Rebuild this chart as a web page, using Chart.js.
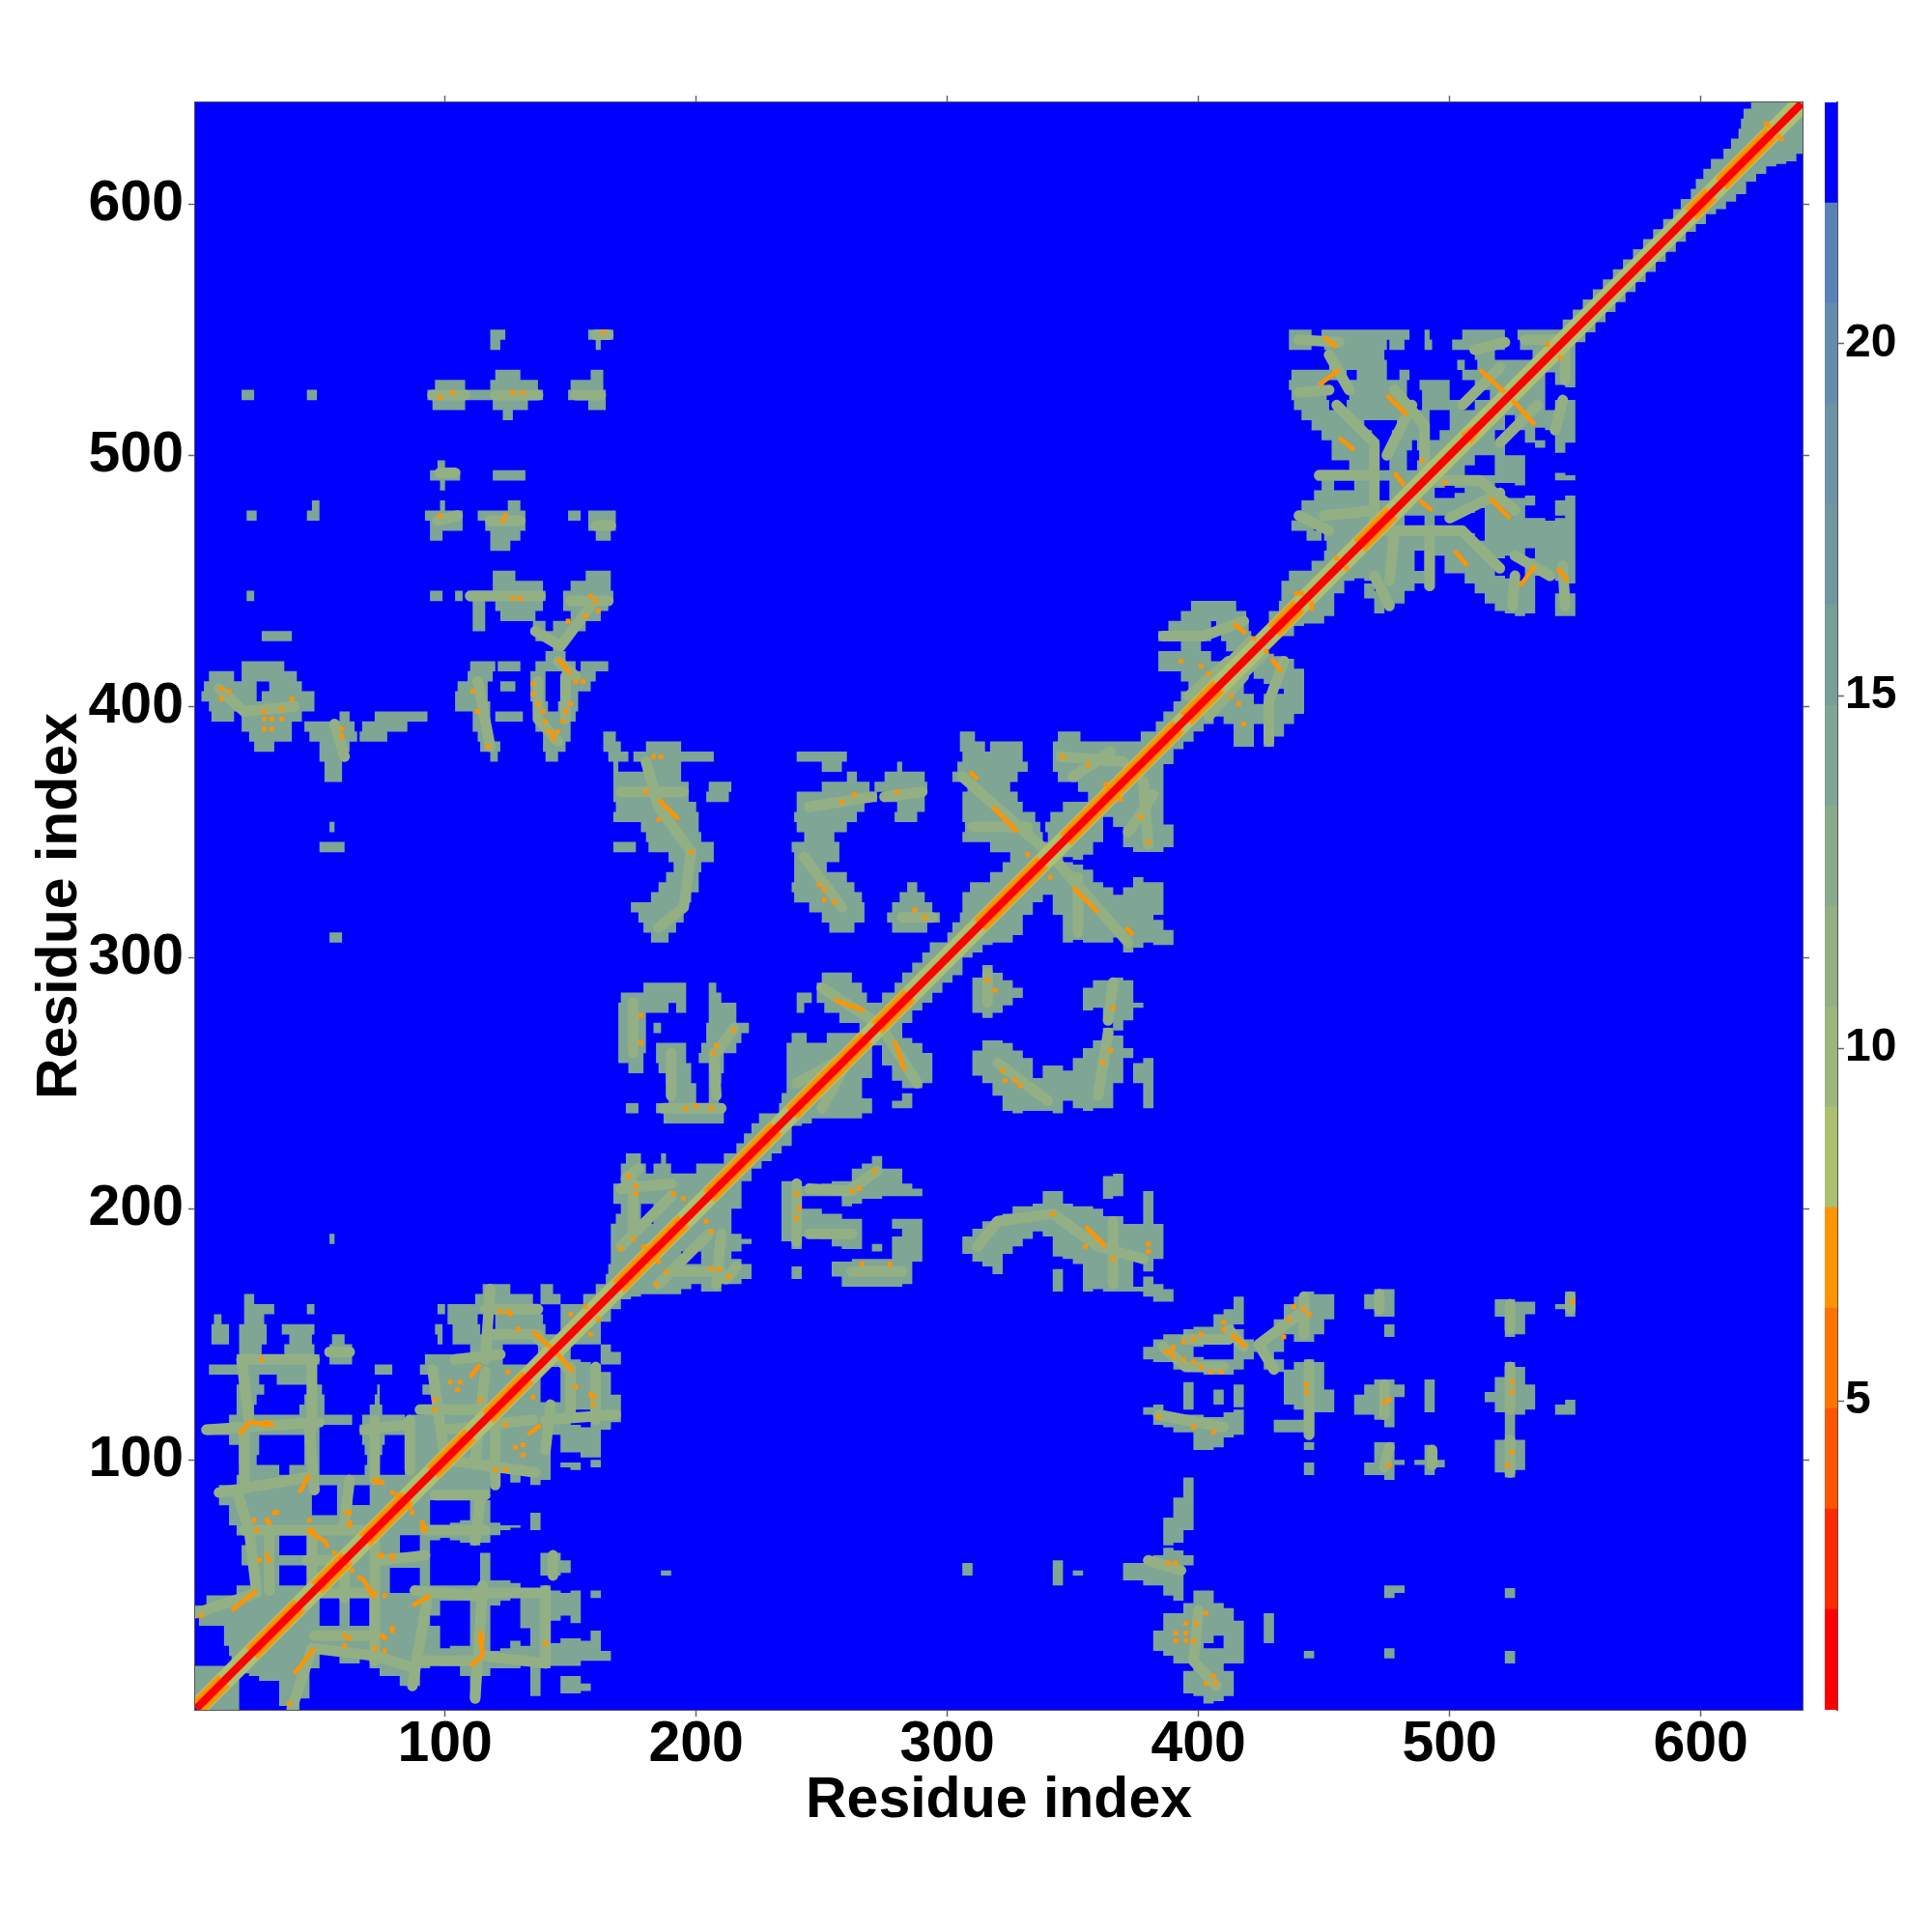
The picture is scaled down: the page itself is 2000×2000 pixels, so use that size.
<!DOCTYPE html>
<html>
<head>
<meta charset="utf-8">
<title>Residue distance map</title>
<script src="https://cdn.jsdelivr.net/npm/chart.js@4/dist/chart.umd.min.js"></script>
<style>
  html, body { margin: 0; background: #fff; }
  #wrap { position: relative; width: 2000px; height: 2000px; }
  canvas { position: absolute; top: 0; }
</style>
</head>
<body>
<div id="wrap">
  <canvas id="map" width="2000" height="2000" style="left:0"></canvas>
  <canvas id="bar" width="111" height="2000" style="left:1889px"></canvas>
</div>
<script>
const tickValues = [100, 200, 300, 400, 500, 600];
const barTicks = [5, 10, 15, 20];
const axisLabel = 'Residue index';
const residueRange = [0.5, 640.5];
const barRange = [0.616, 23.416];

// colour levels of the scale, nearest first (distance in angstrom)
const bandColors = ['#ff0000', '#ff2a00', '#ff5500', '#ff7400', '#ff9400', '#acc070', '#9bb77d', '#93b085',
  '#8aaa8c', '#7fa594', '#789e98', '#7196a0', '#6b92a5', '#648cac', '#5a82b9', '#0000ff'];

// level read for each kind of mark
const farLevel = 22.8;
const haloLevel = 14.5;
const ridgeLevel = 11.5;
const nearLevel = 9;
const spotLevel = 6.5;
const flankLevel = 6.5;
const coreLevel = 1;

// filled runs per row, upper triangle, the map is symmetric: [row, from, to, from, to, ...]
const contactRows = [
  [4,.5,4],[8,.5,8],[12,.5,12],[16,.5,16],[20,15,20],[24,14,24],[28,12,28],[32,12,32],[36,2,36],[40,.5,40],[44,5,44],[48,17,48],
  [52,23,34,45,52],[56,24,34,45,56],[60,19,60],[64,19,34,45,64],[68,21,34,45,68],[72,17,72],[76,14,76],[80,14,47,57,80],
  [84,10,47,57,63,70,84],[88,10,47,57,63,70,88],[92,17,92],[96,19,34,38,50,68,72,84,96],[100,18,25,44,50,69,74,86,100],
  [104,18,26,44,50,68,75,84,104],[108,14,26,44,50,67,76,84,108],[112,5,50,66,84,86,112],[116,14,63,67,84,87,116],
  [120,17,24,42,52,70,75,92,120],[124,17,25,44,52,72,74,97,124],[128,17,28,45,51,73,74,91,128],[132,18,26,33,48,95,132],
  [136,6,48,72,79,90,136],[140,17,50,54,63,92,123,137,140],[144,18,27,36,48,54,63,110,123,137,144],
  [148,7,14,18,29,38,47,55,60,97,99,103,148],[152,7,14,18,29,35,48,96,99,103,114,120,140,146,152],
  [156,8,11,20,28,101,113,120,139,146,156],[160,20,32,45,48,97,100,101,138,146,160],[164,20,24,112,135,138,146,155,164],
  [168,115,126,138,143,160,168],[172,164,172],[176,165,176],[180,166,180],[184,166,184],[188,54,56,166,188],[192,166,192],
  [196,168,178,183,196],[200,170,178,183,200],[204,167,204],[208,167,208],[212,170,212],[216,170,180,183,190,200,216],
  [220,172,178,186,188,211,220],[224,216,224],[228,219,228],[232,222,232],[236,187,211,225,236],[240,172,177,184,211,233,240],
  [244,189,200,205,209,234,244],[248,191,200,205,208,236,248],[252,188,198,205,210,236,252],[256,173,179,185,198,205,211,236,256],
  [260,169,179,184,196,201,211,236,260],[264,169,180,184,196,202,216,236,264],[268,169,180,204,218,238,244,252,268],
  [272,169,180,183,186,204,221,265,272],[276,169,180,205,216,257,276],[280,169,189,192,196,205,216,240,243,251,280],
  [284,170,196,205,210,240,246,248,268,274,284],[288,179,196,205,208,248,266,279,288],[292,250,262,282,292],[296,286,296],
  [300,290,300],[304,293,304],[308,54,59,182,189,300,308],[312,179,192,253,263,278,292,302,312],
  [316,177,195,250,267,276,297,305,316],[320,174,196,245,267,278,294,306,320],[324,182,198,239,266,281,291,306,324],
  [328,185,201,238,263,284,288,309,328],[332,188,201,239,260,317,332],[336,191,202,239,252,322,336],[340,189,207,239,257,325,340],
  [344,50,60,167,176,181,207,238,257,317,344],[348,180,202,243,255,306,338,340,348],[352,54,56,178,201,240,260,307,337,339,352],
  [356,167,201,239,264,279,288,306,335,341,356],[360,168,200,240,267,280,291,306,330,346,360],
  [364,167,197,204,213,240,272,275,291,306,328,356,364],[368,167,197,205,214,250,269,271,292,308,325,352,368],
  [372,52,59,167,194,260,264,275,291,302,328,344,372],[376,52,59,167,169,180,194,250,258,280,282,304,332,342,376],
  [380,50,59,118,121,140,145,165,173,175,207,240,260,306,330,342,380],
  [384,24,32,50,62,114,122,139,148,163,170,180,194,305,315,317,330,342,384],
  [388,22,39,46,65,66,77,113,118,139,150,163,168,305,311,344,353,377,388],[392,19,39,44,64,67,85,111,118,136,150,383,392],
  [396,7,16,19,43,58,62,72,93,111,118,120,131,136,152,386,396],[400,6,48,104,118,135,141,145,153,390,400],
  [404,3,25,27,48,104,117,134,140,147,153,393,404],[408,4,25,30,43,105,117,122,128,134,140,147,158,396,408],
  [412,6,16,19,41,109,119,134,140,147,160,393,412],[416,19,36,110,120,121,130,136,152,154,165,384,409,413,416],
  [420,140,148,384,405,414,420],[424,143,146,393,401,411,424],[428,27,39,136,150,384,405,409,421,425,428],
  [432,111,116,135,140,143,156,388,405,407,420,428,432],[436,111,116,122,136,150,162,393,419,428,436],
  [440,111,116,120,139,147,165,397,415,432,440],[444,21,24,94,99,104,107,109,140,147,167,433,444],[448,119,139,150,166,433,448],
  [452,119,128,156,166,436,452],[456,445,456],[460,450,460],[464,118,126,451,464],[468,94,99,118,130,160,166,443,449,450,468],
  [472,94,107,116,132,157,168,437,446,447,472],[476,21,25,45,50,92,107,113,132,149,154,157,168,440,476],
  [480,47,50,98,100,125,130,441,480],[484,446,470,476,484],[488,98,100,449,454,462,472,476,488],[492,94,106,119,132,447,492],
  [496,97,100,460,470,476,483,487,496],[500,453,470,476,483,488,500],[504,453,472,476,485,487,504],[508,449,469,477,492,496,508],
  [512,445,466,479,492,500,512],[516,123,127,441,492,500,516],[520,95,108,119,133,157,164,438,452,459,483,489,505,510,520],
  [524,19,24,45,49,93,139,149,164,437,451,460,483,489,500,516,524],[528,96,108,118,137,150,163,436,450,459,483,488,500,510,528],
  [532,120,130,158,163,437,459,463,475,480,484,505,532],[536,452,475,503,506,511,536],[540,451,474,510,518,533,540],
  [544,118,122,160,162,436,445,450,475,476,482,490,493,501,522,528,544],[548,118,124,157,167,436,445,449,484,490,492,505,522,527,548],
  [552,545,552],[556,549,556],[560,553,560],[564,557,564],[568,561,568],[572,565,572],[576,569,576],[580,573,580],[584,577,584],
  [588,581,588],[592,585,592],[596,589,596],[600,592,600],[604,596,604],[608,598,608],[612,601,612],[616,604,616],[620,609,620],
  [624,612,624],[628,615,628],[632,616,632],[636,617,636],[640,620,640.5]
];

// paler bands that run through the blocks: [x0, y0, x1, y1]
const ridgeLines = [
  [1,39,25,47],[25,47,22,72],[22,72,17,88],[20,92,20,112],[22,115,19,140],[5,112,50,115],[47,112,47,140],[48,88,46,112],
  [19,140,48,140],[54,143,62,143],[10,87,45,93],[20,72,70,72],[45,60,60,60],[30,48,30,72],[47,50,47,70],[60,75,62,92],
  [72,92,72,116],[68,112,84,114],[86,96,86,116],[90,120,115,120],[112,100,116,135],[100,100,95,136],[116,140,118,168],
  [118,150,137,150],[116,160,137,160],[135,150,142,144],[104,140,122,142],
  [170,185,190,205],[170,208,190,210],[172,212,177,216],[188,186,196,196],[175,190,175,210],
  [250,288,272,274],[240,250,262,262],[306,372,340,342],[345,380,370,378],[310,352,332,352],[350,372,365,382],
  [175,262,175,282],[190,245,190,262],[187,240,210,240],[208,262,215,272],[208,245,207,262],
  [180,378,185,360],[185,360,198,342],[198,342,195,320],[195,320,185,312],[170,366,195,366],
  [245,360,270,364],[275,364,290,366],[243,340,258,320],[282,316,294,316],
  [10,407,20,398],[20,398,40,400],[56,393,60,380],[113,410,118,384],[137,410,137,395],[137,395,145,386],[148,412,148,395],
  [145,418,152,412],[136,430,146,424],[146,424,158,440],[110,444,138,444],[150,442,165,442],[95,524,108,524],[120,524,137,524],
  [152,524,162,524],[97,474,105,476],[118,474,130,474],[160,472,166,472],[98,493,104,493],[160,548,165,548],
  [386,428,402,428],[402,428,418,434],[396,404,412,418],[410,415,421,426],
  [440,546,456,545],[440,525,452,526],[452,540,460,526],[455,520,470,505],[470,505,470,470],[450,476,470,478],
  [478,526,490,512],[490,512,490,492],[505,520,520,535],[510,542,522,545],[530,546,544,546],[448,492,470,492],
  [475,500,485,520],[440,476,452,470]
];

// short close-contact strokes: [x0, y0, x1, y1]
const closeLines = [
  [15,40,25,48],[18,110,22,115],[22,115,32,114],[42,87,46,94],[45,72,53,67],[110,133,114,138],[135,151,143,144],
  [255,283,267,279],[309,374,312,371],[318,360,328,350],[185,363,193,355],
  [145,419,150,413],[143,386,143,390],[450,547,455,543],[448,528,456,534],[475,524,483,516],[456,507,462,502],
  [512,534,522,525],[505,508,511,512],[478,493,482,488],[464,465,472,472],[438,445,442,445],[414,433,419,429]
];

// single close contacts: [x, y]
const closeSpots = [
  [11,407],[14,406],[11,403],[28,398],[31,395],[35,399],[35,395],[28,395],[28,391],[31,391],[39,403],[59,388],[59,391],
  [111,406],[113,398],[117,384],[135,409],[135,405],[137,401],[139,398],[140,394],[147,394],[148,398],[150,401],[141,390],[145,390],
  [155,410],[152,410],[158,444],[160,442],[156,436],[161,438],[149,434],[127,443],[130,443],[98,523],[103,525],[127,525],[131,525],
  [163,549],[98,476],[124,476],[123,474],[183,380],[186,380],[180,366],[185,355],[198,342],[258,362],[263,365],[280,366],
  [249,329],[251,327],[251,323],[255,322],[287,319],[291,316],[332,341],[346,380],[356,377],[363,369],[178,277],[178,266],
  [215,271],[208,265],[207,262],[196,240],[200,241],[206,240],[173,213],[176,209],[176,206],[191,206],[195,204],[175,188],[170,184],
  [179,185],[489,498],[455,459],[438,440],[422,427],[393,418],[401,416],[404,413],[539,544],[27,140],[28,114],[24,76],[29,76],[32,79],
  [29,62],[3,38],[72,92],[61,79],[62,75],[102,131],[106,131],[96,124],[96,120],[114,124],[125,159],[122,159],[129,152],[150,158],
  [156,161],[105,128],[29,115],[30,60],[30,75],[25,72],[33,79],[627,631],[626,632],[91,73],[92,73],[87,79],[81,86],[75,91],[46,76],
  [26,60],[56,63],[62,74],[62,79],[53,66],[47,72],[126,158],[125,135]
];

// stretches of the diagonal with a wide orange flank: [from, to]
const flankRuns = [[1,12],[23,42],[49,61],[68,85],[95,110],[117,133],[169,195],[205,232],[238,268],[272,285],[313,338],[347,386],
  [377,392],[395,408],[430,440],[464,477],[596,604],[608,628]];
const diagonalEnds = [1, 640];

function bandColor(value) {
  const i = Math.floor((value - barRange[0]) / (barRange[1] - barRange[0]) * bandColors.length);
  return bandColors[Math.min(i, bandColors.length - 1)];
}

// one broken line: each stretch ends in a gap, both sides of the diagonal
function brokenLine(stretches) {
  const pts = [];
  stretches.forEach(function(s) {
    pts.push({x: s[0], y: s[1]}, {x: s[2], y: s[3]}, {x: NaN, y: NaN});
    pts.push({x: s[1], y: s[0]}, {x: s[3], y: s[2]}, {x: NaN, y: NaN});
  });
  return pts;
}

function rowStretches(rows) {
  const out = [];
  rows.forEach(function(r) {
    for (let k = 1; k < r.length; k += 2) out.push([r[k], r[0], r[k + 1], r[0]]);
  });
  return out;
}

function lineSet(data, level, width, order, cap) {
  return {
    data: data, showLine: true, spanGaps: false, pointRadius: 0, borderColor: bandColor(level), order: order,
    borderWidth: width, borderCapStyle: cap || 'butt', borderJoinStyle: 'miter', tension: 0
  };
}

const blueBackground = {
  id: 'blueBackground',
  beforeDatasetsDraw(chart) {
    const a = chart.chartArea;
    chart.ctx.fillStyle = bandColor(farLevel);
    chart.ctx.fillRect(a.left, a.top, a.width, a.height);
  }
};

function fixedTicks(values) {
  return function(scale) { scale.ticks = values.map(v => ({value: v})); };
}

function sideAxis(position, size) {
  return {
    type: 'linear', position: position, min: residueRange[0], max: residueRange[1],
    afterBuildTicks: fixedTicks(tickValues),
    afterFit(scale) { if (scale.isHorizontal()) scale.height = size; else scale.width = size; },
    grid: {drawOnChartArea: false, tickLength: 7, tickColor: '#666', tickWidth: 1.5},
    border: {display: true, color: '#555', width: 2},
    ticks: {display: false}
  };
}

const labelFont = {family: '"Liberation Sans"', weight: 'bold', size: 59, lineHeight: 1};

const xAxis = sideAxis('bottom', 230);
xAxis.ticks = {display: true, font: labelFont, color: '#000', padding: 0, maxRotation: 0, autoSkip: false};
xAxis.title = {display: true, text: axisLabel, font: labelFont, color: '#000', padding: {top: 0, bottom: 106}};
const yAxis = sideAxis('left', 202);
yAxis.ticks = {display: true, font: labelFont, color: '#000', padding: 5, autoSkip: false};
yAxis.title = {display: true, text: axisLabel, font: labelFont, color: '#000', padding: {top: 33, bottom: 0}};

const diagonal = [{x: diagonalEnds[0], y: diagonalEnds[0]}, {x: diagonalEnds[1], y: diagonalEnds[1]}];

// order: higher numbers are painted first
new Chart(document.getElementById('map'), {
  type: 'scatter',
  data: {
    datasets: [
      lineSet(brokenLine(rowStretches(contactRows)), haloLevel, 10.6, 7),
      lineSet(brokenLine(ridgeLines), ridgeLevel, 11, 6, 'round'),
      lineSet(diagonal, nearLevel, 20, 5),
      lineSet(brokenLine(flankRuns.map(r => [r[0], r[0], r[1], r[1]])), flankLevel, 17, 4),
      lineSet(brokenLine(closeLines), spotLevel, 4.5, 3),
      {
        data: closeSpots.concat(closeSpots.map(p => [p[1], p[0]])).map(p => ({x: p[0], y: p[1]})), order: 2,
        pointStyle: 'rect', pointRadius: 3.4, pointBorderWidth: 0, backgroundColor: bandColor(spotLevel)
      },
      lineSet(diagonal, coreLevel, 8, 1)
    ]
  },
  options: {
    responsive: false, animation: false, events: [],
    layout: {padding: 0},
    plugins: {legend: {display: false}, tooltip: {enabled: false}},
    scales: {x: xAxis, y: yAxis, x2: sideAxis('top', 106), y2: sideAxis('right', 134)}
  },
  plugins: [blueBackground]
});

// colour scale, one floating bar per level
const bandStep = (barRange[1] - barRange[0]) / bandColors.length;
new Chart(document.getElementById('bar'), {
  type: 'bar',
  data: {
    labels: [''],
    datasets: bandColors.map(function(c, i) {
      return {
        data: [[barRange[0] + i * bandStep, barRange[0] + (i + 1) * bandStep]],
        backgroundColor: c, grouped: false, barPercentage: 1, categoryPercentage: 1
      };
    })
  },
  options: {
    responsive: false, animation: false, events: [],
    layout: {padding: {top: 106, bottom: 230}},
    plugins: {legend: {display: false}, tooltip: {enabled: false}},
    scales: {
      x: {display: false},
      y: {
        position: 'right', min: barRange[0], max: barRange[1],
        afterBuildTicks: fixedTicks(barTicks),
        afterFit(scale) { scale.width = 98; },
        grid: {drawOnChartArea: false, tickLength: 7, tickColor: '#666', tickWidth: 1.5},
        border: {display: true, color: '#555', width: 2},
        ticks: {font: {family: '"Liberation Sans"', weight: 'bold', size: 48, lineHeight: 1}, color: '#000', padding: 1, autoSkip: false}
      }
    }
  }
});
</script>
</body>
</html>
